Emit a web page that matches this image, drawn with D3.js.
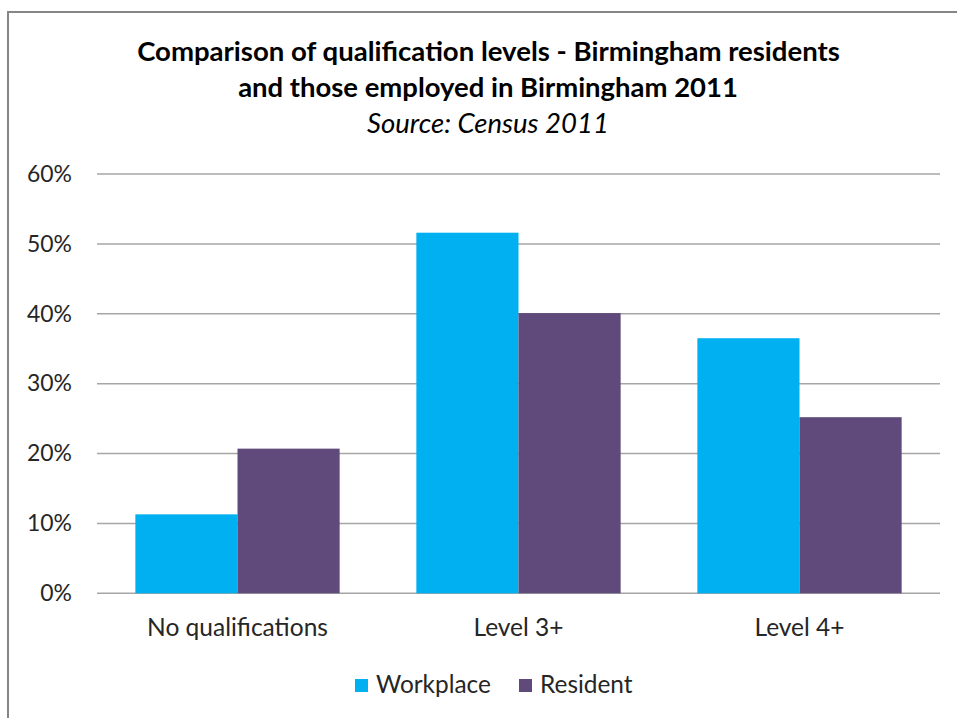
<!DOCTYPE html>
<html><head><meta charset="utf-8">
<script src="https://cdn.jsdelivr.net/npm/d3@7"></script>
<style>body{margin:0;background:#fff;} text{font-family:Lato,"Open Sans",sans-serif;}</style>
</head><body>
<svg id="c" width="957" height="718"></svg>
<script>
const categories = ["No qualifications", "Level 3+", "Level 4+"];
const seriesNames = ["Workplace", "Resident"];
const workplace = [11.3, 51.6, 36.5];
const resident = [20.7, 40.1, 25.2];
const yTicks = [0, 10, 20, 30, 40, 50, 60];
const titleLines = ["Comparison of qualification levels - Birmingham residents", "and those employed in Birmingham 2011"];
const subtitle = "Source: Census 2011";
const colors = ["#00B0F0", "#604A7B"];

const svg = d3.select("#c");
svg.append("rect").attr("x", 8).attr("y", 12).attr("width", 970).attr("height", 720)
  .attr("fill", "#fff").attr("stroke", "#868686").attr("stroke-width", 2);

function fitSize(str, w, weight, style) {
  const t = svg.append("text").attr("font-size", 20).attr("font-weight", weight || "normal")
    .attr("font-style", style || "normal").text(str);
  const len = t.node().getComputedTextLength();
  t.remove();
  return 20 * w / len;
}

const m = {left: 97, right: 940, top: 174, bottom: 593.3};
const x = d3.scaleBand().domain(categories).range([m.left, m.right]).paddingInner(0.273).paddingOuter(0.1365);
const xs = d3.scaleBand().domain(seriesNames).range([0, x.bandwidth()]);
const y = d3.scaleLinear().domain([0, 60]).range([m.bottom, m.top]);

// gridlines
svg.append("g").selectAll("line").data(yTicks).join("line")
  .attr("x1", m.left).attr("x2", m.right)
  .attr("y1", d => y(d)).attr("y2", d => y(d))
  .attr("stroke", "#A6A6A6").attr("stroke-width", 1.5);

// y axis labels
const tickFs = fitSize("60%", 45);
const yAxis = d3.axisLeft(y).tickValues(yTicks).tickFormat(d => d + "%").tickSize(0).tickPadding(0);
const ya = svg.append("g").attr("transform", `translate(72,0)`).call(yAxis);
ya.select(".domain").remove();
ya.selectAll("text").attr("font-size", tickFs).attr("fill", "#262626").attr("font-family", "Lato");

// bars
const data = categories.map((c, i) => ({c, vals: [workplace[i], resident[i]]}));
const g = svg.append("g");
data.forEach(d => {
  d.vals.forEach((v, j) => {
    g.append("rect")
      .attr("x", x(d.c) + xs(seriesNames[j]))
      .attr("y", y(v))
      .attr("width", xs.bandwidth())
      .attr("height", y(0) - y(v))
      .attr("fill", colors[j]);
  });
});

// x axis labels
const catFs = fitSize("No qualifications", 181);
const xAxis = d3.axisBottom(x).tickSize(0).tickPadding(0);
const xa = svg.append("g").attr("transform", `translate(0,619)`).call(xAxis);
xa.select(".domain").remove();
xa.selectAll("text").attr("font-size", catFs).attr("fill", "#262626").attr("font-family", "Lato");

// title
const t1 = svg.append("text").attr("x", 488.5).attr("y", 61).attr("text-anchor", "middle")
  .attr("font-size", fitSize(titleLines[0], 703, "bold")).attr("font-weight", "bold").attr("fill", "#000").text(titleLines[0]);
const t2 = svg.append("text").attr("x", 488).attr("y", 97).attr("text-anchor", "middle")
  .attr("font-size", fitSize(titleLines[1], 500, "bold")).attr("font-weight", "bold").attr("fill", "#000").text(titleLines[1]);
const t3 = svg.append("text").attr("x", 488).attr("y", 133).attr("text-anchor", "middle")
  .attr("font-size", fitSize(subtitle, 242, "normal", "italic")).attr("font-style", "italic").attr("fill", "#000").text(subtitle);

// legend
const legFs = fitSize("Workplace", 115);
const legX = [355, 519];
seriesNames.forEach((s, j) => {
  svg.append("rect").attr("x", legX[j]).attr("y", 679).attr("width", 13).attr("height", 13).attr("fill", colors[j]);
  svg.append("text").attr("x", legX[j] + 21).attr("y", 693).attr("font-size", legFs).attr("fill", "#262626").text(s);
});
</script>
</body></html>
